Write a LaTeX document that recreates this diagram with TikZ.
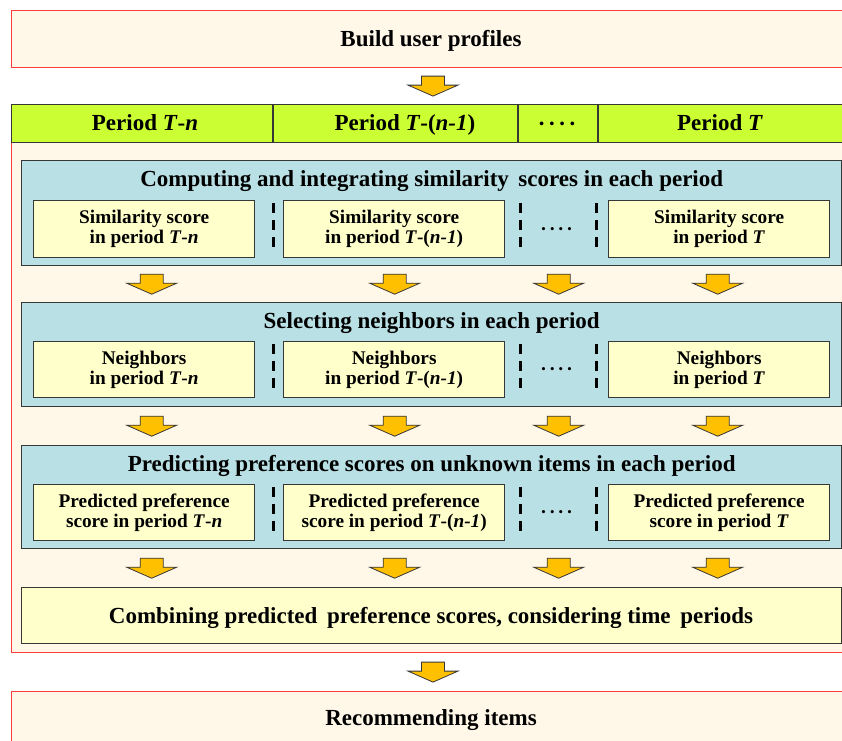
\documentclass[tikz,border=0pt]{standalone}
\usepackage{fontspec}
\setmainfont{Liberation Serif}
\usepackage{xcolor}
\usetikzlibrary{calc}

\definecolor{cream}{RGB}{255,247,231}
\definecolor{redline}{RGB}{255,60,60}
\definecolor{lime}{RGB}{204,255,51}
\definecolor{panelblue}{RGB}{185,224,228}
\definecolor{paleyellow}{RGB}{255,255,204}
\definecolor{arrowgold}{RGB}{255,192,0}
\definecolor{edge}{RGB}{55,55,55}

\tikzset{
  bigfont/.style={font=\fontsize{23}{26}\selectfont\bfseries},
  smallfont/.style={font=\fontsize{19.3}{20}\selectfont\bfseries, align=center},
  redbox/.style={draw=redline, fill=cream, line width=1.2pt, inner sep=0pt, anchor=north west},
  panel/.style={draw=edge, fill=panelblue, line width=1.4pt, inner sep=0pt, anchor=north west, minimum width=820pt},
  cell/.style={draw=edge, fill=paleyellow, line width=1.3pt, inner sep=0pt, anchor=north west,
    minimum width=221pt, minimum height=57pt, smallfont, execute at begin node={\rule{0pt}{20pt}}},
  sep/.style={black, line width=3pt, dash pattern=on 9.5pt off 7.5pt},
  fatarrow/.pic={
    \draw[draw=edge, fill=arrowgold, line width=0.8pt, line join=miter]
      (-11.5,-10) -- (11.5,-10) -- (11.5,-1) -- (25,-1) -- (0,10)
      -- (-25,-1) -- (-11.5,-1) -- cycle;
  },
}

\begin{document}
\begin{tikzpicture}[x=1pt, y=-1pt]
  \useasboundingbox (0,0) rectangle (842,740);
  \fill[white] (0,0) rectangle (842,740);

  % top and bottom steps
  \node[redbox, minimum width=870pt, minimum height=57pt] (build) at (11,10) {};
  \node[bigfont, anchor=base] (buildtxt) at (431,46) {Build user profiles};
  \node[redbox, minimum width=870pt, minimum height=70pt] (recommend) at (11,691) {};
  \node[bigfont, anchor=base] (rectxt) at (431,725) {Recommending items};

  % main frame with the period header
  \node[redbox, minimum width=870pt, minimum height=548pt] (main) at (11,104) {};
  \node[draw=edge, fill=lime, line width=1.4pt, inner sep=0pt, anchor=north west,
    minimum width=870pt, minimum height=38pt] (hdr) at (11,104) {};
  \foreach \dx in {273,518,598}
    \draw[edge, line width=1.2pt] (\dx,104) -- (\dx,142);
  \node[bigfont, anchor=base] (hdr1) at (145,130) {Period \textit{T}-\textit{n}};
  \node[bigfont, anchor=base] (hdr2) at (405,130) {Period \textit{T}-(\textit{n-1})};
  \node[bigfont] (hdr3) at (557,127) {·\hspace{2.6pt}·\hspace{2.6pt}·\hspace{2.6pt}·};
  \node[bigfont, anchor=base] (hdr4) at (720,130) {Period \textit{T}};

  % panel 1: similarity
  \node[panel, minimum height=105pt] (p1) at (21,160) {};
  \node[bigfont, anchor=base] (t1) at ($(p1.north)+(0,26)$) {Computing and integrating similarity\, scores in each period};
  \node[cell] (sim1) at (33,200) {Similarity score\\in period \textit{T}-\textit{n}};
  \node[cell] (sim2) at (283,200) {Similarity score\\in period \textit{T}-(\textit{n-1})};
  \node[cell] (sim4) at (608,200) {Similarity score\\in period \textit{T}};

  % panel 2: neighbors
  \node[panel, minimum height=104pt] (p2) at (21,302) {};
  \node[bigfont, anchor=base] (t2) at ($(p2.north)+(0,26)$) {Selecting neighbors in each period};
  \node[cell, minimum height=56pt] (nb1) at (33,341) {Neighbors\\in period \textit{T}-\textit{n}};
  \node[cell, minimum height=56pt] (nb2) at (283,341) {Neighbors\\in period \textit{T}-(\textit{n-1})};
  \node[cell, minimum height=56pt] (nb4) at (608,341) {Neighbors\\in period \textit{T}};

  % panel 3: prediction
  \node[panel, minimum height=103pt] (p3) at (21,445) {};
  \node[bigfont, anchor=base] (t3) at ($(p3.north)+(0,26)$) {Predicting preference scores on unknown items in each period};
  \node[cell, minimum height=56pt] (pred1) at (33,484) {Predicted preference\\score in period \textit{T}-\textit{n}};
  \node[cell, minimum height=56pt] (pred2) at (283,484) {Predicted preference\\score in period \textit{T}-(\textit{n-1})};
  \node[cell, minimum height=56pt] (pred4) at (608,484) {Predicted preference\\score in period \textit{T}};

  % dashed separators and dots
  \foreach \row in {sim,nb,pred} {
    \draw[sep] ($(\row1.north east)+(18,3)$) -- ($(\row1.north east)+(18,48)$);
    \draw[sep] ($(\row2.north east)+(15,3)$) -- ($(\row2.north east)+(15,48)$);
    \draw[sep] ($(\row4.north west)+(-12,3)$) -- ($(\row4.north west)+(-12,48)$);
    \node[smallfont] (\row dots) at ($(\row2.east)!.5!(\row4.west)+(0,2)$) {·\hspace{2.2pt}·\hspace{2.2pt}·\hspace{2.2pt}·};
  }

  % combining step
  \node[draw=edge, fill=paleyellow, line width=1.3pt, inner sep=0pt, anchor=north west,
    minimum width=820pt, minimum height=56pt] (comb) at (21,587) {};
  \node[bigfont, anchor=base] (combtxt) at (431,623)
    {Combining predicted\, preference scores, considering time\, periods};

  % block arrows
  \pic at ($(build.south west)!.5!(main.north west)+(422,0)$) {fatarrow};
  \pic at ($(main.south west)!.5!(recommend.north west)+(422,0)$) {fatarrow};
  \coordinate (r1) at ($(p1.south)!.5!(p2.north)$);
  \coordinate (r2) at ($(p2.south)!.5!(p3.north)$);
  \coordinate (r3) at ($(p3.south)!.5!(comb.north)$);
  \foreach \r in {r1,r2,r3}
    \foreach \cx in {151,394,558,717}
      \pic at ($(\r)+(\cx-431,0)$) {fatarrow};
\end{tikzpicture}
\end{document}
